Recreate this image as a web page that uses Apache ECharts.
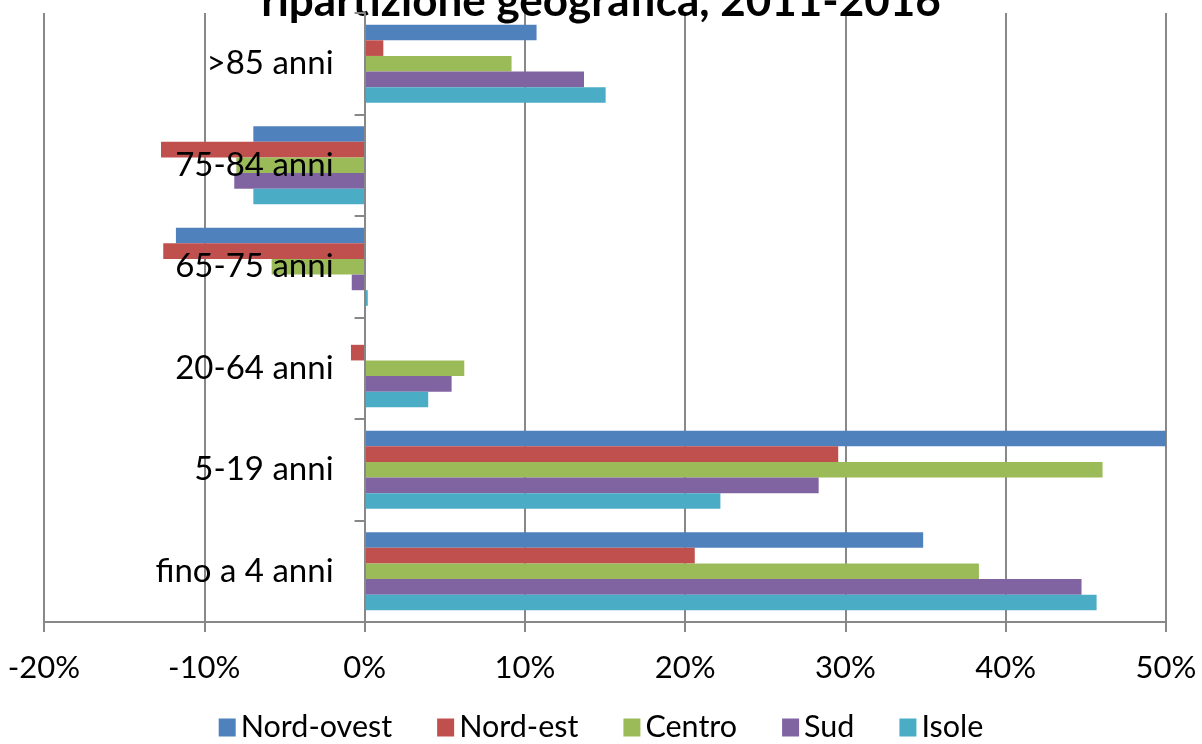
<!DOCTYPE html>
<html>
<head>
<meta charset="utf-8">
<script src="https://cdn.jsdelivr.net/npm/echarts@6/dist/echarts.min.js"></script>
<style>
html,body{margin:0;padding:0;background:#fff;}
#chart{width:1202px;height:744px;}
</style>
</head>
<body>
<div id="chart"></div>
<script>
const titleText = 'ripartizione geografica, 2011-2016';
const categories = ['fino a 4 anni', '5-19 anni', '20-64 anni', '65-75 anni', '75-84 anni', '>85 anni'];
const seriesNames = ['Nord-ovest', 'Nord-est', 'Centro', 'Sud', 'Isole'];
const nordOvest = [34.85, 50.3, 0, -11.77, -6.94, 10.73];
const nordEst   = [20.6, 29.55, -0.85, -12.56, -12.7, 1.17];
const centro    = [38.33, 46.04, 6.22, -5.8, -8.0, 9.17];
const sud       = [44.73, 28.33, 5.43, -0.8, -8.13, 13.69];
const isole     = [45.67, 22.2, 3.97, 0.2, -6.94, 15.04];
const colors = ['#4F81BD', '#C0504D', '#9BBB59', '#8064A2', '#4BACC6'];
const xMin = -20, xMax = 50, xStep = 10;

const allData = [nordOvest, nordEst, centro, sud, isole];
const FONT = 'Lato';
const GRID_LEFT = 44, GRID_RIGHT = 36;
const PLOT_W = 1202 - GRID_LEFT - GRID_RIGHT;
// distance from grid left edge to the 0% axis line
const zeroOffset = PLOT_W * (0 - xMin) / (xMax - xMin);

const chart = echarts.init(document.getElementById('chart'), null, {renderer: 'canvas'});
chart.setOption({
  animation: false,
  backgroundColor: '#fff',
  color: colors,
  title: {
    text: titleText,
    left: 'center',
    top: -25,
    textStyle: {fontFamily: FONT, fontWeight: 'bold', fontSize: 44, color: '#000'}
  },
  legend: {
    top: 707,
    left: 'center',
    itemWidth: 17,
    itemHeight: 18,
    itemGap: 45,
    icon: 'rect',
    textStyle: {fontFamily: FONT, fontSize: 30.5, color: '#000'},
    data: seriesNames
  },
  grid: {left: GRID_LEFT, right: GRID_RIGHT, top: 13, bottom: 122, containLabel: false, outerBoundsMode: 'none'},
  xAxis: {
    type: 'value',
    min: xMin, max: xMax, interval: xStep,
    axisLine: {show: true, lineStyle: {color: '#888', width: 2}},
    axisTick: {show: true, length: 10, lineStyle: {color: '#888', width: 2}},
    splitLine: {show: true, lineStyle: {color: '#888', width: 2}},
    axisLabel: {formatter: '{value}%', margin: 30, fontFamily: FONT, fontSize: 31, color: '#000'}
  },
  yAxis: {
    type: 'category',
    data: categories,
    axisLine: {show: true, onZero: true, lineStyle: {color: '#888', width: 2}},
    axisTick: {show: true, length: 10, lineStyle: {color: '#888', width: 2}},
    axisLabel: {margin: 31 - zeroOffset, fontFamily: FONT, fontSize: 33, color: '#000'},
    splitLine: {show: false},
    z: 10
  },
  series: seriesNames.map((n, i) => ({
    name: n,
    type: 'bar',
    data: allData[i],
    barGap: '0%',
    barCategoryGap: '23%',
    clip: true,
    itemStyle: {color: colors[i]}
  }))
});
</script>
</body>
</html>
